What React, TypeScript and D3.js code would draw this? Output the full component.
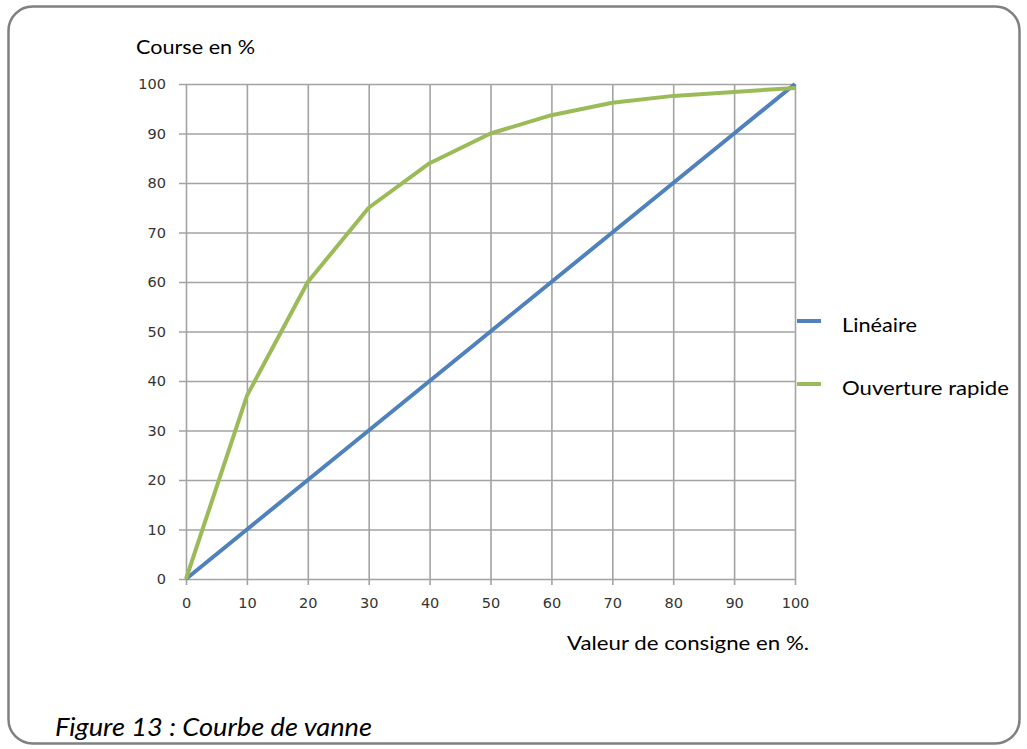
import * as d3 from 'd3';
import { useEffect, useRef } from 'react';

const W = 1027;
const H = 749;

// data
const consigne = [0, 10, 20, 30, 40, 50, 60, 70, 80, 90, 100];
const lineaire = [0, 10, 20, 30, 40, 50, 60, 70, 80, 90, 100];
const ouvertureRapide = [0, 37, 60, 75, 84, 90, 93.7, 96.2, 97.6, 98.4, 99.2];
const seriesNames = ['Linéaire', 'Ouverture rapide'];
const seriesColors = ['#4f81bd', '#9bbb59'];
const yTicks = [0, 10, 20, 30, 40, 50, 60, 70, 80, 90, 100];
const xTicks = [0, 10, 20, 30, 40, 50, 60, 70, 80, 90, 100];

const GRID = '#a3a3a3';
const LABEL_FONT = 'Lato, "Open Sans", sans-serif';

export default function App() {
    const ref = useRef<any>();

    useEffect(() => {
        const svg = d3.select<any, any>(ref.current);
        svg.selectAll('*').remove();

        const plot = { left: 186, right: 795, top: 84, bottom: 579 };
        const xScale = d3.scaleLinear().domain([0, 100]).range([plot.left, plot.right]);
        const yScale = d3.scaleLinear().domain([0, 100]).range([plot.bottom, plot.top]);

        // frame
        svg.append('rect')
            .attr('x', 8.5).attr('y', 6.5)
            .attr('width', 1011).attr('height', 737)
            .attr('rx', 24).attr('ry', 24)
            .attr('fill', '#fff')
            .attr('stroke', '#808080')
            .attr('stroke-width', 2.5);

        // y axis with gridlines
        const yAxis = d3.axisLeft(yScale)
            .tickValues(yTicks)
            .tickSize(-(plot.right - plot.left))
            .tickPadding(20)
            .tickFormat((d: any) => `${d}`);
        const yg = svg.append('g')
            .attr('transform', `translate(${plot.left}, 0)`)
            .call(yAxis);
        yg.select('.domain').remove();
        yg.selectAll('line').attr('stroke', GRID).attr('stroke-width', 1.6).attr('x2', plot.right - plot.left).attr('x1', -7);
        yg.selectAll('text')
            .attr('x', -20)
            .attr('font-family', '"DejaVu Sans", Verdana, sans-serif')
            .attr('font-size', 14.5)
            .attr('fill', '#333');

        // x axis with gridlines
        const xAxis = d3.axisBottom(xScale)
            .tickValues(xTicks)
            .tickSize(-(plot.bottom - plot.top))
            .tickFormat((d: any) => `${d}`);
        const xg = svg.append('g')
            .attr('transform', `translate(0, ${plot.bottom})`)
            .call(xAxis);
        xg.select('.domain').remove();
        xg.selectAll('line').attr('stroke', GRID).attr('stroke-width', 1.6).attr('y1', 6).attr('y2', -(plot.bottom - plot.top));
        xg.selectAll('text')
            .attr('y', 19)
            .attr('dy', '0.71em')
            .attr('font-family', '"DejaVu Sans", Verdana, sans-serif')
            .attr('font-size', 14.5)
            .attr('fill', '#333');

        // series
        const allSeries = [lineaire, ouvertureRapide];
        const line = d3.line<number>()
            .x((d, i) => xScale(consigne[i]))
            .y((d) => yScale(d));

        allSeries.forEach((values, i) => {
            svg.append('path')
                .datum(values)
                .attr('d', line as any)
                .attr('fill', 'none')
                .attr('stroke', seriesColors[i])
                .attr('stroke-width', 4)
                .attr('stroke-linejoin', 'round');
        });

        // legend
        const legendY = [321, 384];
        seriesNames.forEach((name, i) => {
            svg.append('line')
                .attr('x1', 797).attr('x2', 821)
                .attr('y1', legendY[i]).attr('y2', legendY[i])
                .attr('stroke', seriesColors[i])
                .attr('stroke-width', 4);
            svg.append('text')
                .attr('x', 842)
                .attr('y', legendY[i] + 11)
                .attr('font-family', LABEL_FONT)
                .attr('font-size', 19)
                .attr('fill', '#000')
                .attr('textLength', i === 0 ? 75 : 167)
                .attr('lengthAdjust', 'spacingAndGlyphs')
                .text(name);
        });

        // axis titles
        svg.append('text')
            .attr('x', 136).attr('y', 54)
            .attr('font-family', LABEL_FONT)
            .attr('font-size', 19)
            .attr('textLength', 119)
            .attr('lengthAdjust', 'spacingAndGlyphs')
            .text('Course en %');

        svg.append('text')
            .attr('x', 567).attr('y', 650)
            .attr('font-family', LABEL_FONT)
            .attr('font-size', 19)
            .attr('textLength', 242)
            .attr('lengthAdjust', 'spacingAndGlyphs')
            .text('Valeur de consigne en %.');

        // caption
        svg.append('text')
            .attr('x', 55).attr('y', 736)
            .attr('font-family', LABEL_FONT)
            .attr('font-style', 'italic')
            .attr('font-size', 25)
            .attr('textLength', 317)
            .attr('lengthAdjust', 'spacingAndGlyphs')
            .text('Figure 13 : Courbe de vanne');
    });

    return (
        <svg
            ref={ref}
            width={W}
            height={H}
            style={{ position: 'absolute', left: 0, top: 0, display: 'block' }}
        ></svg>
    );
}
